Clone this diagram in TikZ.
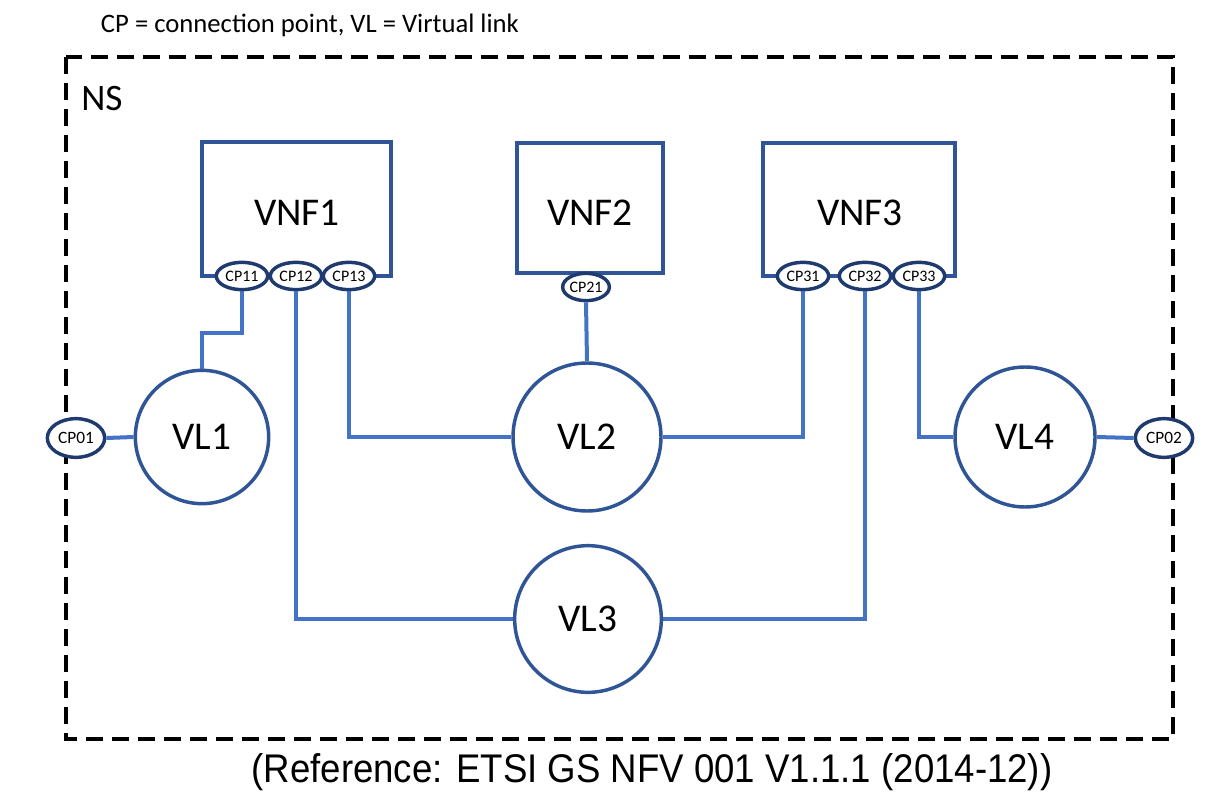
\documentclass[tikz,border=0pt]{standalone}
\usepackage{fontspec}
\usepackage{graphicx}
\setmainfont{Carlito}
\newfontfamily\arialf{Liberation Sans}
\usetikzlibrary{shapes.geometric}
\definecolor{boxblue}{HTML}{2F5597}
\definecolor{linkblue}{HTML}{4472C4}
\definecolor{cpnavy}{HTML}{1F3A6E}
\definecolor{circblue}{HTML}{2F5597}
\tikzset{
  vnfbox/.style={draw=boxblue, line width=3pt},
  vnflabel/.style={font=\fontsize{29.5}{32}\selectfont, inner sep=0pt},
  cpnode/.style={ellipse, draw=cpnavy, line width=2.6pt, fill=white, inner sep=0pt,
    minimum width=38.5pt, minimum height=20.5pt, font=\fontsize{12}{13}\selectfont},
  cpbig/.style={cpnode, minimum width=43pt, minimum height=29pt, font=\fontsize{13}{14}\selectfont},
  vlnode/.style={circle, draw=circblue, line width=2.6pt, fill=white, inner sep=0pt,
    font=\fontsize{29.5}{32}\selectfont},
  conn/.style={draw=linkblue, line width=3pt},
  nsborder/.style={draw=black, line width=3pt, dash pattern=on 12.75pt off 6.75pt},
}
\begin{document}
\begin{tikzpicture}[x=0.75pt, y=-0.75pt]
\useasboundingbox (0,0) rectangle (1230,798);
% title
\node[font=\fontsize{20}{24}\selectfont, inner sep=0pt] (title) at (310,25) {CP = connection point, VL = Virtual link};
% NS border
\draw[nsborder] (66,57) rectangle (1173,739);
\node[font=\fontsize{28}{30}\selectfont, inner sep=0pt, anchor=west] (ns) at (81,99) {NS};
% VNF boxes
\draw[vnfbox] (202,142) rectangle (391,276);
\draw[vnfbox] (517,143) rectangle (663,273);
\draw[vnfbox] (763,143) rectangle (955,276);
\node[vnflabel] (vnf1) at (297,213) {VNF1};
\node[vnflabel] (vnf2) at (590,213) {VNF2};
\node[vnflabel] (vnf3) at (860,213) {VNF3};
% VL circles
\node[vlnode, minimum size=100pt] (vl1) at (202,437) {VL1};
\node[vlnode, minimum size=111pt] (vl2) at (587,437) {VL2};
\node[vlnode, minimum size=110pt] (vl3) at (588,619) {VL3};
\node[vlnode, minimum size=105pt] (vl4) at (1025,437) {VL4};
% connection points
\node[cpnode] (cp11) at (242,276) {CP11};
\node[cpnode] (cp12) at (296,276) {CP12};
\node[cpnode] (cp13) at (349,276) {CP13};
\node[cpnode, minimum width=34pt] (cp21) at (586,287) {CP21};
\node[cpnode] (cp31) at (803,276) {CP31};
\node[cpnode] (cp32) at (865,276) {CP32};
\node[cpnode] (cp33) at (919,276) {CP33};
\node[cpbig] (cp01) at (76,438) {CP01};
\node[cpbig] (cp02) at (1164,438) {CP02};
% connectors
\draw[conn] (cp11.south) -- ++(0,42) -| (vl1.north);
\draw[conn] (cp12.south) |- (vl3.west);
\draw[conn] (cp13.south) |- (vl2.west);
\draw[conn] (cp21.south) -- (vl2.north);
\draw[conn] (cp31.south) |- (vl2.east);
\draw[conn] (cp32.south) |- (vl3.east);
\draw[conn] (cp33.south) |- (vl4.west);
\draw[conn] (cp01.east) -- (vl1.west);
\draw[conn] (vl4.east) -- (cp02.west);
% reference
\node[font=\arialf\fontsize{30}{32}\selectfont, inner sep=0pt] (ref) at (652,772) {\scalebox{0.915}[1]{(Reference: ETSI GS NFV 001 V1.1.1 (2014-12))}};
\end{tikzpicture}
\end{document}
